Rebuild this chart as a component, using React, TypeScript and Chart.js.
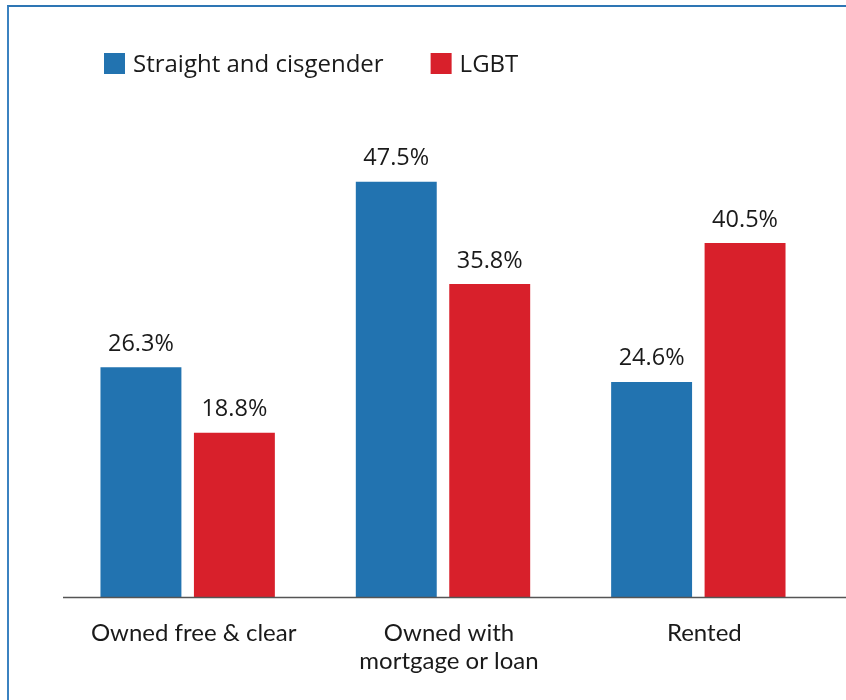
import React, { useEffect, useRef } from 'react';
import { Chart, registerables } from 'chart.js';

Chart.register(...registerables);

const categories: string[][] = [['Owned free & clear'], ['Owned with', 'mortgage or loan'], ['Rented']];
const seriesNames = ['Straight and cisgender', 'LGBT'];
const straightValues = [26.3, 47.5, 24.6];
const lgbtValues = [18.8, 35.8, 40.5];
const seriesColors = ['#2273b0', '#d8202b'];
const yMax = 50;

const TEXT_COLOR = '#1a1a1a';
const LABEL_FONT = '"Open Sans", sans-serif';
const TICK_FONT = 'Lato, sans-serif';

const valueLabelPlugin = {
  id: 'valueLabels',
  afterDatasetsDraw(chart: any) {
    const ctx = chart.ctx;
    ctx.save();
    ctx.font = `23.5px ${LABEL_FONT}`;
    ctx.fillStyle = TEXT_COLOR;
    ctx.textAlign = 'center';
    ctx.textBaseline = 'alphabetic';
    chart.data.datasets.forEach((ds: any, di: number) => {
      const meta = chart.getDatasetMeta(di);
      meta.data.forEach((bar: any, i: number) => {
        ctx.fillText(`${ds.data[i].toFixed(1)}%`, bar.x, bar.y - 16.5);
      });
    });
    ctx.restore();
  },
};

const axisLinePlugin = {
  id: 'axisLine',
  afterDatasetsDraw(chart: any) {
    const { ctx, chartArea } = chart;
    ctx.save();
    ctx.strokeStyle = '#555555';
    ctx.lineWidth = 1.5;
    ctx.beginPath();
    ctx.moveTo(chartArea.left + 3, chartArea.bottom + 0.5);
    ctx.lineTo(chart.width, chartArea.bottom + 0.5);
    ctx.stroke();
    ctx.restore();
  },
};

const legendPlugin = {
  id: 'customLegend',
  afterDraw(chart: any) {
    const ctx = chart.ctx;
    ctx.save();
    ctx.font = `24px ${LABEL_FONT}`;
    ctx.textBaseline = 'alphabetic';
    ctx.textAlign = 'left';
    let x = chart.chartArea.left + 44;
    const boxTop = 53;
    const box = 21;
    chart.data.datasets.forEach((ds: any) => {
      ctx.fillStyle = ds.backgroundColor;
      ctx.fillRect(x, boxTop, box, box);
      ctx.fillStyle = TEXT_COLOR;
      const tx = x + box + 8;
      ctx.fillText(ds.label, tx, boxTop + 19);
      x = tx + ctx.measureText(ds.label).width + 47;
    });
    ctx.restore();
  },
};

export default function App() {
  const canvasRef = useRef<HTMLCanvasElement | null>(null);

  useEffect(() => {
    if (!canvasRef.current) return;
    const chart = new Chart(canvasRef.current, {
      type: 'bar',
      data: {
        labels: categories,
        datasets: [
          {
            label: seriesNames[0],
            data: straightValues,
            backgroundColor: seriesColors[0],
            categoryPercentage: 0.732,
            barPercentage: 0.866,
          },
          {
            label: seriesNames[1],
            data: lgbtValues,
            backgroundColor: seriesColors[1],
            categoryPercentage: 0.732,
            barPercentage: 0.866,
          },
        ],
      },
      options: {
        responsive: false,
        animation: false,
        devicePixelRatio: 1,
        layout: { padding: { left: 60, right: 20, top: 160, bottom: 0 } },
        plugins: {
          legend: { display: false },
          tooltip: { enabled: false },
        },
        scales: {
          x: {
            grid: { display: false, drawTicks: false },
            border: { display: false },
            ticks: {
              padding: 22,
              labelOffset: 6,
              color: TEXT_COLOR,
              font: { family: TICK_FONT, size: 24, lineHeight: 1.17 },
              maxRotation: 0,
              autoSkip: false,
            },
            afterFit: (scale: any) => {
              scale.height = 103;
            },
          },
          y: {
            display: false,
            min: 0,
            max: yMax,
          },
        },
      },
      plugins: [valueLabelPlugin, axisLinePlugin, legendPlugin],
    });
    return () => chart.destroy();
  }, []);

  return (
    <>
      <canvas
        ref={canvasRef}
        width={846}
        height={700}
        style={{ position: 'fixed', left: 0, top: 0, width: 846, height: 700, background: '#ffffff' }}
      />
      <div
        style={{
          position: 'fixed',
          left: 7,
          top: 5,
          width: 845,
          height: 700,
          borderTop: '2px solid #2e76b4',
          borderLeft: '2px solid #3b82c0',
          pointerEvents: 'none',
        }}
      />
    </>
  );
}
